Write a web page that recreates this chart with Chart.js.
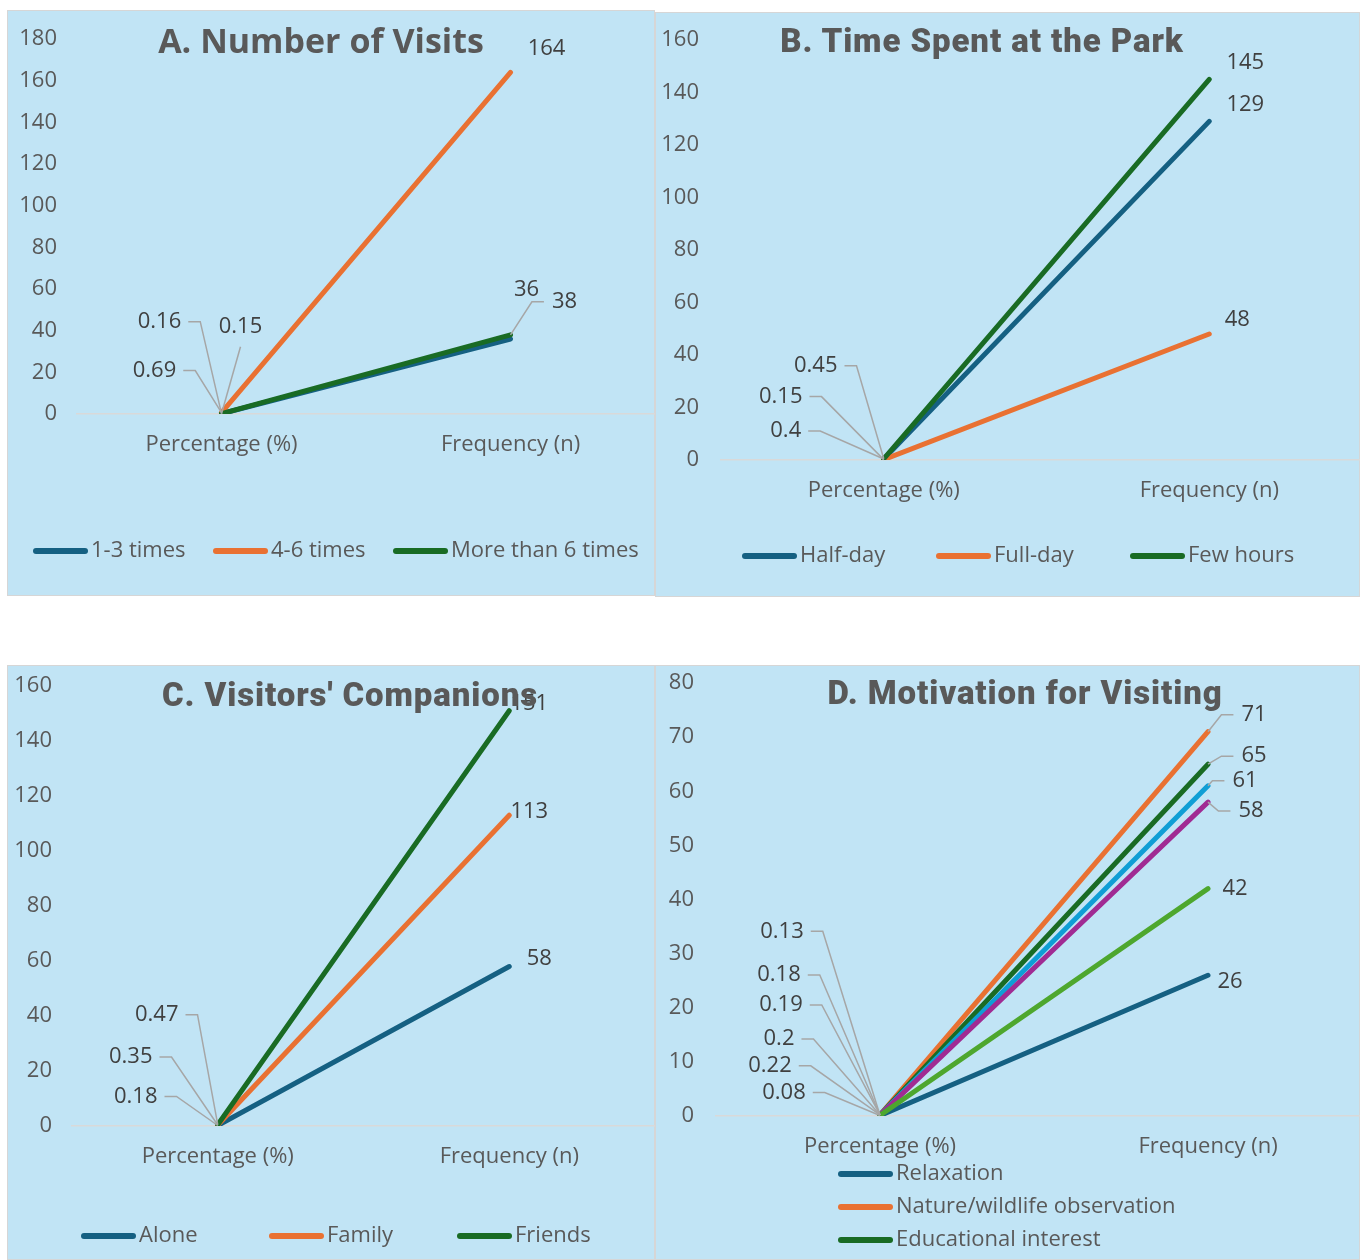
<!DOCTYPE html>
<html>
<head>
<meta charset="utf-8">
<script src="https://cdn.jsdelivr.net/npm/chart.js@4.4.1/dist/chart.umd.min.js"></script>
<style>
  body { margin: 0; width: 1360px; height: 1260px; background: #fff; position: relative; overflow: hidden; font-family: "Open Sans", sans-serif; }
  .panel { position: absolute; background: #c1e4f5; overflow: hidden; outline: 1px solid #d6d6d6; outline-offset: -1px; }
  .panel canvas { position: absolute; left: 0; top: 0; }
  .title { position: absolute; color: #595959; white-space: nowrap; transform: translate(-50%, -50%); line-height: 1; }
  .heavy { font: 900 33px Roboto; letter-spacing: 0.9px; }
</style>
</head>
<body>
<div class="panel" style="left:7px;top:10px;width:648px;height:586px"><canvas id="chartA" width="648" height="586"></canvas></div>
<div class="panel" style="left:655px;top:12px;width:705px;height:585px"><canvas id="chartB" width="717" height="585"></canvas></div>
<div class="panel" style="left:7px;top:665px;width:648px;height:595px"><canvas id="chartC" width="648" height="595"></canvas></div>
<div class="panel" style="left:655px;top:665px;width:705px;height:595px"><canvas id="chartD" width="717" height="595"></canvas></div>

<div class="title" style="left:321px;top:40px;font:700 34px 'Open Sans'">A. Number of Visits</div>
<div class="title heavy" style="left:982px;top:40px">B. Time Spent at the Park</div>
<div class="title heavy" style="left:350px;top:694px">C. Visitors' Companions</div>
<div class="title heavy" style="left:1025px;top:692px">D. Motivation for Visiting</div>

<script>
const categories = ['Percentage (%)', 'Frequency (n)'];

const visitsSeries = ['1-3 times', '4-6 times', 'More than 6 times'];
const visitsPct = [0.15, 0.69, 0.16];
const visitsFreq = [36, 164, 38];

const timeSeries = ['Half-day', 'Full-day', 'Few hours'];
const timePct = [0.4, 0.15, 0.45];
const timeFreq = [129, 48, 145];

const companionSeries = ['Alone', 'Family', 'Friends'];
const companionPct = [0.18, 0.35, 0.47];
const companionFreq = [58, 113, 151];

const motivationSeries = ['Relaxation', 'Nature/wildlife observation', 'Educational interest', 'Series 4', 'Series 5', 'Series 6'];
const motivationPct = [0.08, 0.22, 0.2, 0.19, 0.18, 0.13];
const motivationFreq = [26, 71, 65, 61, 58, 42];

const colors = ['#156082', '#e97132', '#196b24', '#0f9ed5', '#a02b93', '#4ea72e'];
const tickFont = { family: 'Open Sans', size: 22 };

// draws data labels with leader lines, plus a simple legend
const overlay = {
  id: 'overlay',
  afterDatasetsDraw(chart, args, o) {
    const ctx = chart.ctx;
    ctx.save();
    ctx.font = '22px "Open Sans"';
    ctx.textBaseline = 'middle';
    chart.data.datasets.forEach((ds, i) => {
      chart.getDatasetMeta(i).data.forEach((pt, j) => {
        const [dx, dy, lead] = o.offsets[i][j];
        const text = String(ds.data[j]);
        const tx = pt.x + dx, ty = pt.y + dy;
        const w = ctx.measureText(text).width;
        if (lead) {
          ctx.strokeStyle = '#a6a6a6';
          ctx.lineWidth = 1.5;
          ctx.beginPath();
          if (lead === 'L') {
            const x1 = tx + w / 2 + 7;
            ctx.moveTo(x1, ty);
            ctx.lineTo(x1 + 12, ty);
            ctx.lineTo(pt.x, pt.y);
          } else if (lead === 'R') {
            const x1 = tx - w / 2 - 8;
            ctx.moveTo(x1, ty);
            ctx.lineTo(x1 - 12, ty);
            ctx.lineTo(pt.x, pt.y);
          } else {
            ctx.moveTo(tx, ty + 20);
            ctx.lineTo(pt.x, pt.y);
          }
          ctx.stroke();
        }
        ctx.fillStyle = '#404040';
        ctx.textAlign = 'center';
        ctx.fillText(text, tx, ty);
      });
    });

    const lg = o.legend;
    ctx.textAlign = 'left';
    ctx.fillStyle = '#595959';
    chart.data.datasets.forEach((ds, i) => {
      const x = lg.vertical ? lg.x : lg.x + i * lg.colW;
      const y = lg.vertical ? lg.y + i * lg.rowH : lg.y;
      ctx.strokeStyle = ds.borderColor;
      ctx.lineWidth = 6;
      ctx.lineCap = 'round';
      ctx.beginPath();
      ctx.moveTo(x + 3, y);
      ctx.lineTo(x + 52, y);
      ctx.stroke();
      ctx.fillText(ds.label, x + 58, y);
    });
    ctx.restore();
  }
};

function makeChart(id, names, pct, freq, s) {
  const datasets = names.map((name, i) => ({
    label: name,
    data: [pct[i], freq[i]],
    borderColor: colors[i],
    backgroundColor: colors[i],
    borderWidth: 5,
    borderCapStyle: 'round',
    pointRadius: 0,
    tension: 0,
    order: names.length - i
  }));
  return new Chart(document.getElementById(id), {
    type: 'line',
    data: { labels: categories, datasets },
    options: {
      responsive: false,
      animation: false,
      layout: { padding: { left: 0, right: 0, top: s.top, bottom: s.bottom } },
      plugins: {
        legend: { display: false },
        tooltip: { enabled: false },
        overlay: { offsets: s.offsets, legend: s.legend }
      },
      scales: {
        x: {
          offset: true,
          grid: { display: false, drawTicks: false },
          border: { display: true, color: '#d9d9d9', width: 1.5 },
          ticks: { color: '#595959', font: tickFont, padding: 18, maxRotation: 0 },
          afterFit(sc) { sc.height = 60; }
        },
        y: {
          min: 0,
          max: s.max,
          grid: { display: false, drawTicks: false },
          border: { display: false },
          ticks: { stepSize: s.step, color: '#595959', font: tickFont, padding: s.yPad },
          afterFit(sc) { sc.width = s.left; sc.paddingTop = 0; sc.paddingBottom = 0; }
        }
      }
    },
    plugins: [overlay]
  });
}

makeChart('chartA', visitsSeries, visitsPct, visitsFreq, {
  max: 180, step: 20, left: 70, top: 29, bottom: 122, yPad: 20,
  offsets: [[[19, -87, 'B'], [16, -49]], [[-67, -42, 'L'], [36, -24]], [[-62, -92, 'L'], [54, -33, 'R']]],
  legend: { x: 26, y: 541, colW: 180 }
});

makeChart('chartB', timeSeries, timePct, timeFreq, {
  max: 160, step: 20, left: 66, top: 28, bottom: 77, yPad: 22,
  offsets: [[[-98, -28, 'L'], [36, -17]], [[-103, -63, 'L'], [28, -14]], [[-68, -93, 'L'], [36, -17]]],
  legend: { x: 87, y: 544, colW: 194 }
});

makeChart('chartC', companionSeries, companionPct, companionFreq, {
  max: 160, step: 20, left: 65, top: 21, bottom: 74, yPad: 20,
  offsets: [[[-82, -29, 'L'], [30, -8]], [[-87, -68, 'L'], [20, -4]], [[-61, -110, 'L'], [20, -7]]],
  legend: { x: 74, y: 571, colW: 188 }
});

makeChart('chartD', motivationSeries, motivationPct, motivationFreq, {
  max: 80, step: 10, left: 61, top: 18, bottom: 84, yPad: 22,
  offsets: [
    [[-96, -23, 'L'], [22, 6]],
    [[-110, -49, 'L'], [46, -17, 'R']],
    [[-101, -76, 'L'], [46, -8, 'R']],
    [[-99, -110, 'L'], [37, -5, 'R']],
    [[-101, -140, 'L'], [43, 9, 'R']],
    [[-98, -184, 'L'], [27, 0]]
  ],
  legend: { x: 183, y: 509, rowH: 33, vertical: true }
});
</script>
</body>
</html>
